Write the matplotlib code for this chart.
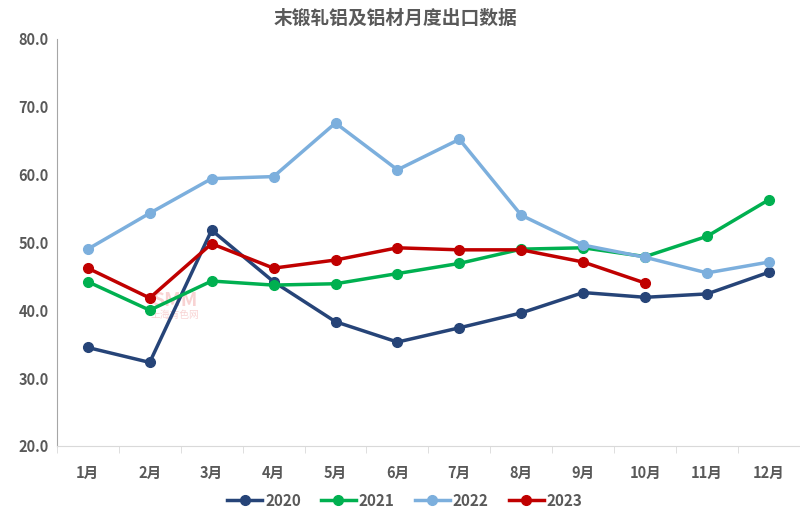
import numpy as np
import matplotlib
matplotlib.use("Agg")
from matplotlib import pyplot as plt

plt.rcParams['font.family'] = ['Noto Sans CJK SC', 'DejaVu Sans']

months = ['1月', '2月', '3月', '4月', '5月', '6月', '7月', '8月', '9月', '10月', '11月', '12月']
v2020 = [34.5, 32.3, 51.8, 44.2, 38.3, 35.3, 37.4, 39.6, 42.6, 41.9, 42.4, 45.6]
v2021 = [44.2, 40.0, 44.3, 43.7, 43.9, 45.4, 46.9, 49.0, 49.2, 47.9, 50.9, 56.3]
v2022 = [49.0, 54.3, 59.4, 59.7, 67.6, 60.7, 65.2, 54.0, 49.6, 47.8, 45.5, 47.1]
v2023 = [46.2, 41.8, 49.8, 46.2, 47.4, 49.2, 48.9, 48.9, 47.1, 44.0]

series = [('2020', v2020, '#264478'),
          ('2021', v2021, '#00b050'),
          ('2022', v2022, '#7cafdd'),
          ('2023', v2023, '#c00000')]

txt = '#595959'

fig = plt.figure(figsize=(8, 5.19), dpi=100)
ax = fig.add_axes([0.071, 0.141, 0.929, 0.784])

for nome, vals, cor in series:
    ax.plot(np.arange(len(vals)), vals, color=cor, lw=2.5, marker='o',
            ms=7, label=nome, zorder=3)

ax.set_xlim(-0.5, 11.5)
ax.set_ylim(20, 80)
ax.set_yticks(np.arange(20, 81, 10))
ax.set_yticklabels(['%.1f' % v for v in np.arange(20, 81, 10)])
ax.set_xticks(np.arange(12))
ax.set_xticklabels(months)
ax.set_xticks(np.arange(-0.5, 12, 1), minor=True)

for s in ['top', 'right']:
    ax.spines[s].set_visible(False)
ax.spines['left'].set_color('#a6a6a6')
ax.spines['bottom'].set_color('#d9d9d9')
ax.tick_params(axis='x', which='major', length=0, pad=14)
ax.tick_params(axis='x', which='minor', length=5, color='#d9d9d9')
ax.tick_params(axis='y', length=0, pad=6)
for lb in ax.get_xticklabels() + ax.get_yticklabels():
    lb.set_fontsize(10.5)
    lb.set_fontweight('bold')
    lb.set_color(txt)

# marca d'agua
ax.text(1.4, 41.5, 'SMM', color='#f4b6b6', fontsize=14, fontweight='bold',
        ha='center', va='center', alpha=0.6, zorder=1)
ax.text(1.4, 39.3, '上海有色网', color='#f4b6b6', fontsize=7,
        ha='center', va='center', alpha=0.6, zorder=1)

fig.text(0.494, 0.965, '末锻轧铝及铝材月度出口数据', ha='center', va='center',
         fontsize=13.5, fontweight='bold', color=txt)

leg = fig.legend(loc='center', bbox_to_anchor=(0.506, 0.035), ncol=4, frameon=False,
                 handlelength=2.3, columnspacing=1.3, handletextpad=0.2,
                 prop={'weight': 'bold', 'size': 11})
for t in leg.get_texts():
    t.set_color(txt)

fig.savefig('out.png', dpi=100)
